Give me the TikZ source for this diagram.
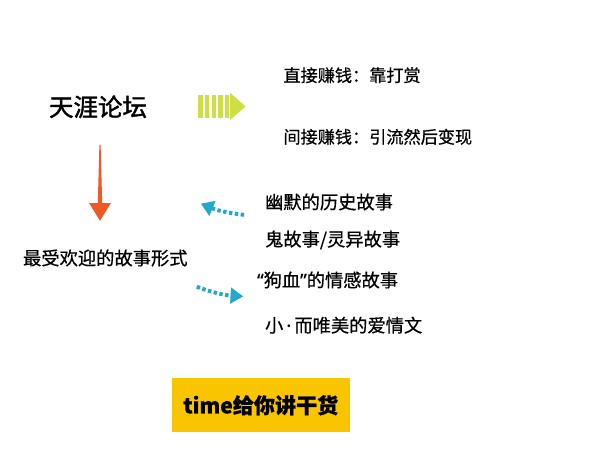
\documentclass[tikz,border=0pt]{standalone}
\usepackage{fontspec}
\setmainfont{Noto Sans CJK SC}[FakeBold=0.6]
\newfontfamily\titlefont{Noto Sans CJK SC}[FakeBold=1.6]
\newfontfamily\latinfont{Noto Sans}[FakeBold=0.6]
\usepackage{tikz}
\usetikzlibrary{arrows.meta,calc}

\begin{document}
\begin{tikzpicture}[inner sep=0pt,
  txt/.style={anchor=west,font=\fontsize{12.2}{14}\selectfont},
  story/.style={anchor=west,font=\fontsize{13}{15}\selectfont},
  cyanArrow/.style={draw={rgb,255:red,33;green,168;blue,203},line width=2.8pt,dash pattern=on 2.4pt off 1.8pt,
    -{Triangle[width=11pt,length=9pt]}}]
\useasboundingbox (0,0) rectangle (15,11.25);
\definecolor{limeBar}{RGB}{206,222,70}
\definecolor{orangeArrow}{RGB}{240,88,38}
\definecolor{boxYellow}{RGB}{248,197,0}
%Node Coordinates
\node at (2.45,8.58) [font=\fontsize{17.4}{20}\selectfont\titlefont] (Title) {天涯论坛};
\node at (7.08,9.37) [txt] (Direct) {直接赚钱：靠打赏};
\node at (7.08,7.83) [txt] (Indirect) {间接赚钱：引流然后变现};
\node at (0.57,4.8) [story] (Forms) {最受欢迎的故事形式};
\node at (6.62,6.2) [story] (StoryA) {幽默的历史故事};
\node at (6.62,5.25) [story] (StoryB) {鬼故事/灵异故事};
\node at (6.42,4.25) [story] (StoryC) {{\latinfont“}狗血{\latinfont”}的情感故事};
\node at (6.62,3.12) [story] (StoryD) {小{\latinfont\,·\,}而唯美的爱情文};
\node at (6.52,1.12) [rectangle,fill=boxYellow,minimum width=4.45cm,minimum height=1.35cm,
  font=\fontsize{15}{17}\selectfont\bfseries] (Box) {time给你讲干货};

%Green Arrow
\foreach \i in {0,...,4}
  \fill[limeBar] (4.958+0.1667*\i,8.3) rectangle ++(0.108,0.575);
\fill[limeBar] (5.75,8.93) -- (6.14,8.59) -- (5.75,8.25) -- cycle;

%Orange Arrow
\coordinate (OrangeTop) at (2.5,7.63);
\coordinate (OrangeTip) at (2.5,5.73);
\fill[orangeArrow] ($(OrangeTop)+(-0.015,0)$) -- ($(OrangeTop)+(0.015,0)$)
  -- ($(OrangeTip)+(0.055,0.44)$) -- ($(OrangeTip)+(0.27,0.44)$) -- (OrangeTip)
  -- ($(OrangeTip)+(-0.27,0.44)$) -- ($(OrangeTip)+(-0.055,0.44)$) -- cycle;

%Cyan Arrows
\coordinate (InTail) at (6.1,5.88);
\coordinate (InTip) at (5.02,6.16);
\coordinate (OutTail) at (4.92,4.08);
\coordinate (OutTip) at (6.08,3.84);
\draw[cyanArrow] (InTail) to[bend left=8] (InTip);
\draw[cyanArrow] (OutTail) to[bend right=8] (OutTip);
\end{tikzpicture}
\end{document}
